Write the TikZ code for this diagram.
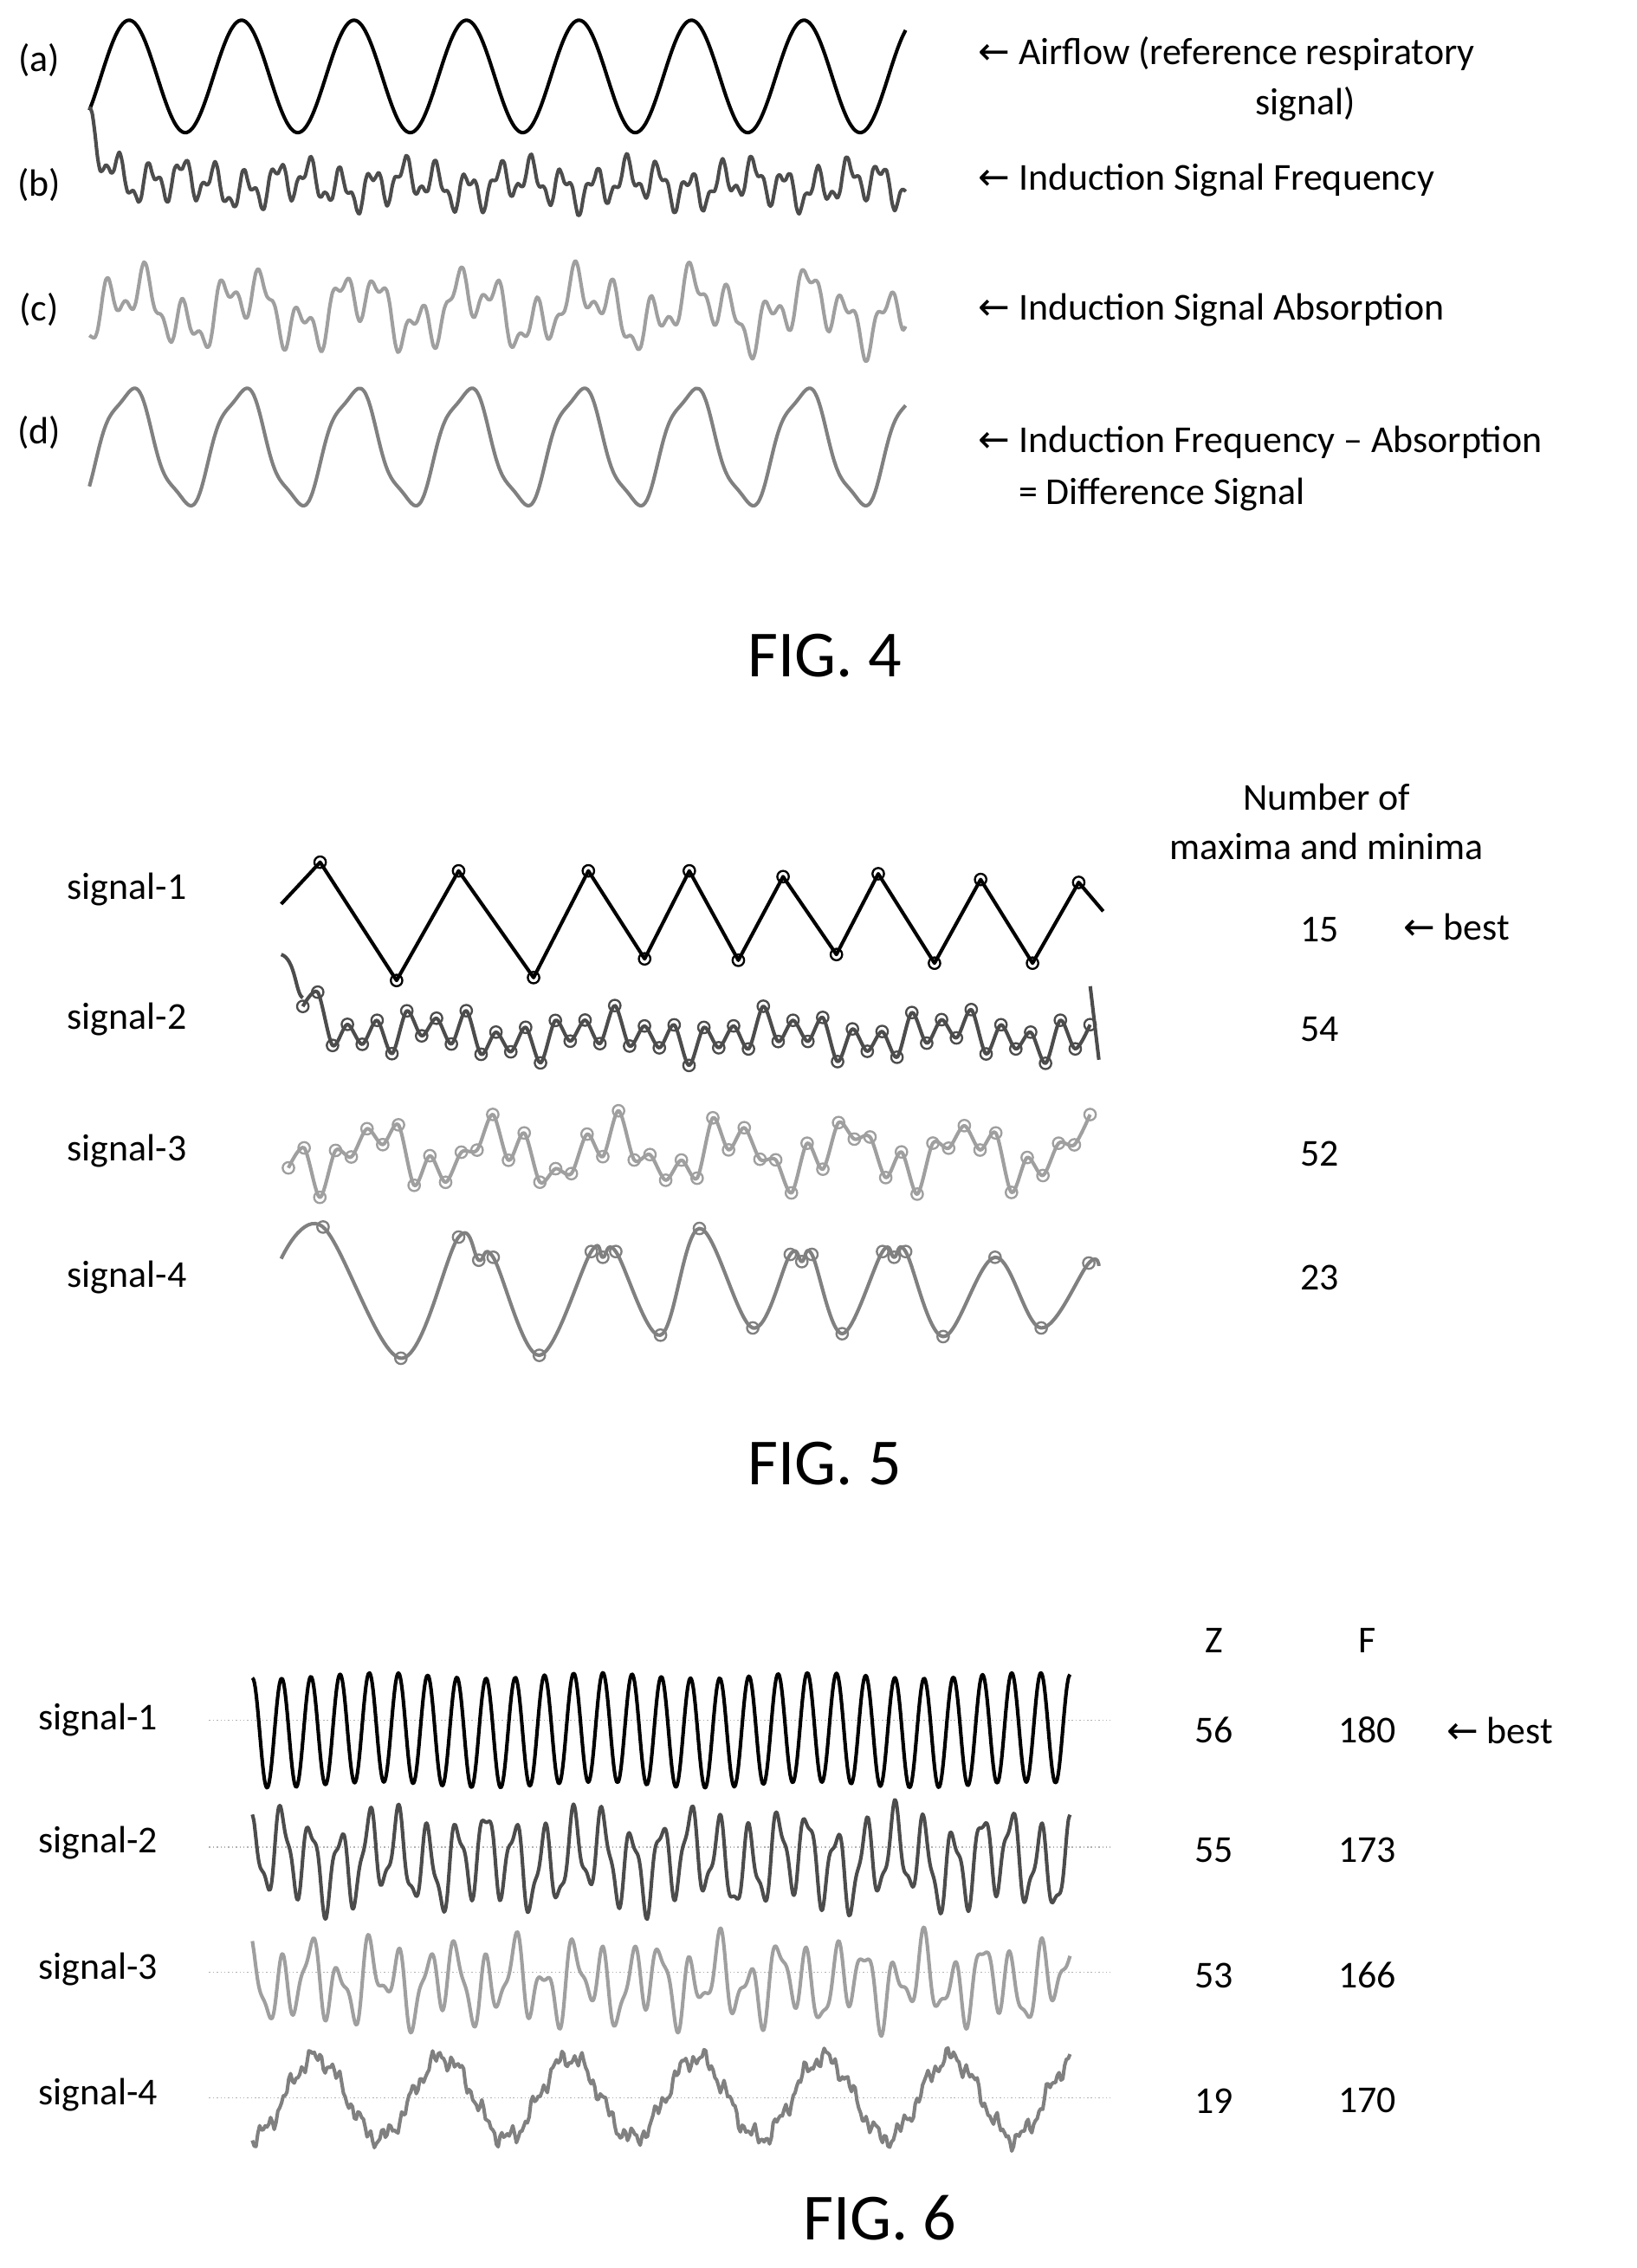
\documentclass[tikz,border=0pt]{standalone}
\usepackage{fontspec}
\setmainfont{Carlito}
\newfontfamily\dv{DejaVu Sans}
\begin{document}
\begin{tikzpicture}[x=0.02cm,y=-0.02cm,
  lab/.style={font=\fontsize{15}{18}\selectfont, inner sep=0},
  fig/.style={font=\fontsize{26}{30}\selectfont, inner sep=0},
  sg/.style={line width=1.4pt, line join=round},
  mc/.style={line width=0.8pt},
  base/.style={gray!60, densely dotted, line width=0.5pt}]
\useasboundingbox (0,0) rectangle (1135,1573);
\newcommand{\ar}{{\dv\char"2190}}
% ---------- FIG 4
\node[lab] (la) at (27,42) {(a)};
\node[lab] (lb) at (27,128) {(b)};
\node[lab] (lc) at (27,215) {(c)};
\node[lab] (ld) at (27,300) {(d)};
\draw[sg,black] plot[domain=62:628,samples=220,smooth] (\x,{53-39*sin(360*frac((\x-70+78)/78))});
\draw[sg,gray!60!black] plot[domain=62:628,samples=300,smooth] (\x,{128+11*sin(360*frac(\x/22))+6*sin(360*frac(\x/9.5))+5*sin(360*frac(\x/78)+40)-40*exp(-(\x-62)/15)});
\draw[sg,gray!75] plot[domain=62:628,samples=300,smooth] (\x,{215+14*sin(360*frac(\x/27))+8*sin(360*frac(\x/13)+20)+14*sin(360*frac(\x/78)+200)});
\draw[sg,gray] plot[domain=62:628,samples=250,smooth] (\x,{310-40*sin(360*frac((\x-70+78)/78))+5*sin(360*frac(\x/26))});
\node[lab,anchor=west] (ta) at (678,37) {\ar\ Airflow (reference respiratory};
\node[lab] (ta2) at (905,72) {signal)};
\node[lab,anchor=west] (tb) at (678,125) {\ar\ Induction Signal Frequency};
\node[lab,anchor=west] (tc) at (678,215) {\ar\ Induction Signal Absorption};
\node[lab,anchor=west] (td) at (678,307) {\ar\ Induction Frequency -- Absorption};
\node[lab,anchor=west] (td2) at (706,343) {= Difference Signal};
\node[fig] (f4) at (572,455) {FIG. 4};
% ---------- FIG 5
\node[lab] (s51) at (88,617) {signal-1};
\node[lab] (s52) at (88,707) {signal-2};
\node[lab] (s53) at (88,798) {signal-3};
\node[lab] (s54) at (88,886) {signal-4};
\draw[sg,black] (195,627)--(222,598)--(275,680)--(318,604)--(370,678)--(408,604)--(447,665)--(478,604)--(512,666)--(543,608)--(580,662)--(609,606)--(648,668)--(680,610)--(716,668)--(748,612)--(765,632);
\foreach \p in {(222,598),(275,680),(318,604),(370,678),(408,604),(447,665),(478,604),(512,666),(543,608),(580,662),(609,606),(648,668),(680,610),(716,668),(748,612)}
  \draw[mc,black] \p circle[radius=4];
\draw[sg,gray!60!black] (195,662) .. controls (205,665) and (205,690) .. (210,692);
\draw[sg,gray!60!black] plot[smooth,samples=54,domain=0:53] ({210+\x*10.3},{718+cos(180*\x)*(10+5*sin(73*\x))+6*sin(31*\x)-30*exp(-\x/2)});
\foreach \i in {0,...,53}{
  \pgfmathsetmacro\xx{210+\i*10.3}
  \pgfmathsetmacro\yy{718+cos(180*\i)*(10+5*sin(73*\i))+6*sin(31*\i)-30*exp(-\i/2)}
  \draw[mc,gray!60!black] (\xx,\yy) circle[radius=4];}
\draw[sg,gray!60!black] (756,684) -- (762,735);
\draw[sg,gray!75] plot[smooth,samples=52,domain=0:51] ({200+\x*10.9},{800+cos(180*\x)*(10+6*sin(57*\x))+15*sin(\x*48)});
\foreach \i in {0,...,51}{
  \pgfmathsetmacro\xx{200+\i*10.9}
  \pgfmathsetmacro\yy{800+cos(180*\i)*(10+6*sin(57*\i))+15*sin(\i*48)}
  \draw[mc,gray!75] (\xx,\yy) circle[radius=4];}
\draw[sg,gray] plot[smooth,tension=0.6] coordinates {(195,873)(224,851)(278,942)(318,858)(332,874)(342,872)(374,940)(410,868)(418,872)(427,868)(458,926)(485,852)(522,921)(548,870)(556,875)(563,870)(584,925)(612,868)(620,872)(628,868)(654,927)(690,872)(722,921)(755,876)(762,878)};
\foreach \p in {(224,851),(278,942),(318,858),(332,874),(342,872),(374,940),(410,868),(418,872),(427,868),(458,926),(485,852),(522,921),(548,870),(556,875),(563,870),(584,925),(612,868),(620,872),(628,868),(654,927),(690,872),(722,921),(755,876)}
  \draw[mc,gray] \p circle[radius=4];
\node[lab] (h1) at (920,553) {Number of};
\node[lab] (h2) at (920,587) {maxima and minima};
\node[lab] (n1) at (915,645) {15};
\node[lab] (n2) at (915,714) {54};
\node[lab] (n3) at (915,800) {52};
\node[lab] (n4) at (915,886) {23};
\node[lab] (b5) at (1010,643) {\ar\ best};
\node[fig] (f5) at (572,1015) {FIG. 5};
% ---------- FIG 6
\foreach \y in {1193,1281,1368,1455} \draw[base] (145,\y)--(770,\y);
\node[lab] (s61) at (68,1193) {signal-1};
\node[lab] (s62) at (68,1278) {signal-2};
\node[lab] (s63) at (68,1366) {signal-3};
\node[lab] (s64) at (68,1453) {signal-4};
\draw[sg,black] plot[domain=175:742,samples=600,smooth] (\x,{1200-38*sin(360*frac((\x-175+5)/20.25))+2*sin(360*frac(\x/150))});
\draw[sg,gray!60!black] plot[domain=175:742,samples=500,smooth] (\x,{1290-26*sin(360*frac((\x-175+5)/20.25))+8*sin(360*frac(\x/9.3))+8*sin(360*frac(\x/71))});
\draw[sg,gray!75] plot[domain=175:742,samples=500,smooth] (\x,{1375-20*sin(360*frac((\x-175+5)/20.25))+9*sin(360*frac(\x/11.7))+10*sin(360*frac(\x/47)+60)});
\draw[sg,gray] plot[domain=175:742,samples=450] (\x,{1455-28*sin(360*frac((\x-175+66)/88))+3*sin(360*frac(\x/7))+2.5*sin(360*frac(\x/4.3))+4*sin(360*frac(\x/17))});
\node[lab] (z) at (842,1138) {Z};
\node[lab] (fh) at (948,1138) {F};
\node[lab] (z1) at (842,1200) {56};
\node[lab] (z2) at (842,1283) {55};
\node[lab] (z3) at (842,1370) {53};
\node[lab] (z4) at (842,1457) {19};
\node[lab] (f1) at (948,1200) {180};
\node[lab] (f2) at (948,1283) {173};
\node[lab] (f3) at (948,1370) {166};
\node[lab] (f4v) at (948,1457) {170};
\node[lab] (b6) at (1040,1200) {\ar\ best};
\node[fig] (f6) at (610,1538) {FIG. 6};
\end{tikzpicture}
\end{document}
